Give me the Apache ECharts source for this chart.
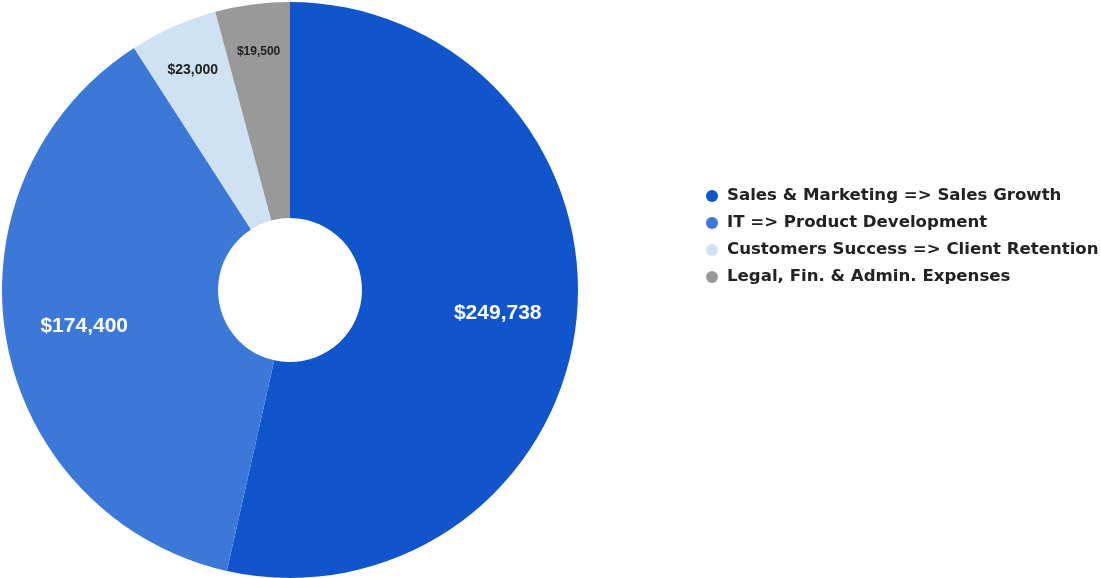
<!DOCTYPE html>
<html>
<head>
<meta charset="utf-8">
<script src="https://cdn.jsdelivr.net/npm/echarts@6/dist/echarts.min.js"></script>
<style>
  html, body { margin: 0; padding: 0; background: #fff; }
  #main { width: 1101px; height: 578px; }
</style>
</head>
<body>
<div id="main"></div>
<script>
// budget split
var categories = [
  "Sales & Marketing => Sales Growth",
  "IT => Product Development",
  "Customers Success => Client Retention",
  "Legal, Fin. & Admin. Expenses"
];
var amounts = [249738, 174400, 23000, 19500];
var colors = ["#1155cc", "#3c78d8", "#cfe2f3", "#999999"];
// big slices get the white large label, small ones a dark small one
var bigSlice = [true, true, false, false];

var chart = echarts.init(document.getElementById("main"));

function money(v) {
  return "$" + v.toLocaleString("en-US");
}

// label-only copy of the pie, drawn transparent on top
function labelSeries(outer, showBig) {
  return {
    type: "pie",
    silent: true,
    center: [290, 290],
    radius: [0, outer],
    startAngle: 90,
    emphasis: { disabled: true },
    itemStyle: { color: "rgba(0,0,0,0)" },
    labelLine: { show: false },
    data: categories.map(function (name, i) {
      var isBig = bigSlice[i];
      return {
        name: name,
        value: amounts[i],
        label: {
          show: isBig === showBig,
          position: "inside",
          formatter: money(amounts[i]),
          fontFamily: "Liberation Sans, Arial, sans-serif",
          fontWeight: "bold",
          fontSize: isBig ? 21 : (i === 2 ? 14 : 12),
          color: isBig ? "#ffffff" : "#222222"
        }
      };
    })
  };
}

chart.setOption({
  animation: false,
  legend: {
    data: categories,
    orient: "vertical",
    left: 701,
    top: 181,
    icon: "circle",
    itemWidth: 12,
    itemHeight: 12,
    itemGap: 7,
    selectedMode: false,
    textStyle: {
      fontFamily: "DejaVu Sans, Verdana, sans-serif",
      fontWeight: "bold",
      fontSize: 16.6,
      lineHeight: 20,
      padding: [0, 0, 0, 4],
      color: "#222222"
    }
  },
  series: [
    {
      type: "pie",
      center: [290, 290],
      radius: [72, 288],
      startAngle: 90,
      label: { show: false },
      labelLine: { show: false },
      emphasis: { disabled: true },
      data: categories.map(function (name, i) {
        return { name: name, value: amounts[i], itemStyle: { color: colors[i] } };
      })
    },
    labelSeries(412, true),
    labelSeries(474, false)
  ]
});
</script>
</body>
</html>
